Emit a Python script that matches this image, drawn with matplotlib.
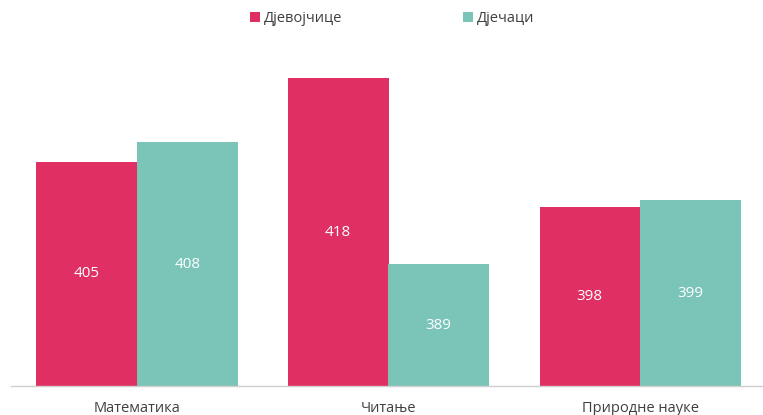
import matplotlib
matplotlib.use("Agg")
import matplotlib.pyplot as plt
import numpy as np

categories = ["Математика", "Читање", "Природне науке"]
series_names = ["Дјевојчице", "Дјечаци"]
girls = [405, 418, 398]
boys = [408, 389, 399]

colors = ["#E02F63", "#7AC4B8"]
plt.rcParams['font.family'] = ['Open Sans', 'DejaVu Sans']

fig = plt.figure(figsize=(7.63, 4.15), dpi=100)
ax = fig.add_axes([11/763, 1-386/415, 755/763, (386-33.5)/415])

x = np.arange(len(categories))
w = 0.4
ymin = 370
for i, (vals, c, name) in enumerate(zip([girls, boys], colors, series_names)):
    pos = x + (i - 0.5) * w
    ax.bar(pos, np.array(vals) - ymin, width=w, bottom=ymin, color=c, label=name)
    for p, v in zip(pos, vals):
        ax.text(p, (ymin + v) / 2, str(v), ha='center', va='center',
                color='white', fontsize=11)

ax.set_xlim(-0.5, 2.5)
ax.set_ylim(ymin, 425)
ax.set_xticks(x)
ax.set_xticklabels(categories, fontsize=10.5, color='#404040')
ax.tick_params(axis='x', length=0, pad=11)
ax.set_yticks([])
for s in ['top', 'right', 'left']:
    ax.spines[s].set_visible(False)
ax.spines['bottom'].set_color('#D0D0D0')
ax.spines['bottom'].set_linewidth(1)

leg = fig.legend(loc='center', bbox_to_anchor=(392/763, 1-19/415), ncol=2,
                 frameon=False, fontsize=10.5, handlelength=0.7, handleheight=0.7,
                 handletextpad=0.25, columnspacing=8.3)
for t in leg.get_texts():
    t.set_color('#404040')

fig.savefig("out.png", dpi=100)
